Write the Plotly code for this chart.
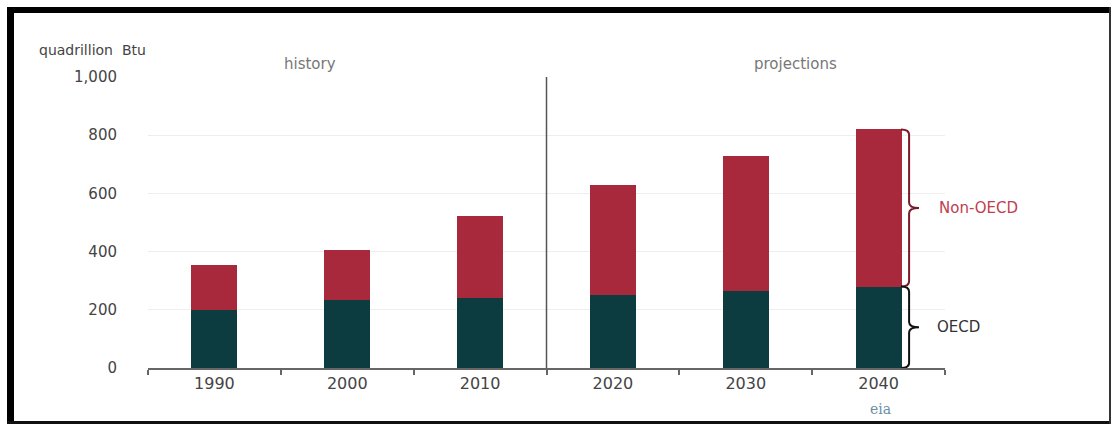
import plotly.graph_objects as go

years = ["1990", "2000", "2010", "2020", "2030", "2040"]
oecd = [200, 235, 240, 250, 265, 280]
non_oecd = [154, 171, 284, 380, 464, 540]
y_ticks = [0, 200, 400, 600, 800, 1000]

W, H = 1114, 426
L, R, T, B = 148, 169, 77, 58
PW, PH = W - L - R, H - T - B

def px(x):
    return (x - L) / PW

def py(y):
    return (H - B - y) / PH

OECD_C = "#0d3c40"
NON_C = "#a8293c"
FONT = "DejaVu Sans"

fig = go.Figure()
fig.add_bar(x=years, y=oecd, name="OECD", marker_color=OECD_C, marker_line_width=0)
fig.add_bar(x=years, y=non_oecd, name="Non-OECD", marker_color=NON_C, marker_line_width=0)

shapes = []
# separator between history and projections
shapes.append(dict(type="line", xref="x", yref="y", x0=2.5, x1=2.5, y0=0, y1=1000,
                   line=dict(color="#555555", width=1.5)))

def brace(y_lo, y_hi, x0, w, color):
    xm = x0 + w * 0.45
    xt = x0 + w
    ym = (y_lo + y_hi) / 2
    r = min(18, (y_hi - y_lo) / 6)
    p = (f"M {x0},{y_hi} Q {xm},{y_hi} {xm},{y_hi - r} L {xm},{ym + r} "
         f"Q {xm},{ym} {xt},{ym} Q {xm},{ym} {xm},{ym - r} L {xm},{y_lo + r} "
         f"Q {xm},{y_lo} {x0},{y_lo}")
    return dict(type="path", xref="paper", yref="y", path=p, line=dict(color=color, width=2))

last_o = oecd[-1]
last_t = oecd[-1] + non_oecd[-1]
bx0 = px(901)
bw = px(919) - px(901)
shapes.append(brace(last_o, last_t, bx0, bw, "#7a1a28"))
shapes.append(brace(0, last_o, bx0, bw, "#111111"))

# frame
def rect(x0, y0, x1, y1, color):
    return dict(type="rect", xref="paper", yref="paper", x0=px(x0), x1=px(x1),
                y0=py(y1), y1=py(y0), fillcolor=color, line=dict(width=0), layer="above")

shapes.append(rect(7, 7, 1111, 13, "#000000"))
shapes.append(rect(7, 7, 14, 424, "#000000"))
shapes.append(rect(7, 421, 1111, 424, "#111111"))
shapes.append(rect(1109, 7, 1111, 424, "#333333"))

annotations = [
    dict(text="quadrillion  Btu", xref="paper", yref="paper", x=px(37), y=py(50),
         xanchor="left", yanchor="middle", showarrow=False, font=dict(family=FONT, size=14, color="#444444")),
    dict(text="history", xref="paper", yref="paper", x=px(310), y=py(64),
         xanchor="center", yanchor="middle", showarrow=False, font=dict(family=FONT, size=15, color="#777777")),
    dict(text="projections", xref="paper", yref="paper", x=px(795), y=py(64),
         xanchor="center", yanchor="middle", showarrow=False, font=dict(family=FONT, size=15, color="#777777")),
    dict(text="Non-OECD", xref="paper", yref="y", x=px(937), y=last_o + non_oecd[-1] / 2,
         xanchor="left", yanchor="middle", showarrow=False, font=dict(family=FONT, size=15, color="#c0404f")),
    dict(text="OECD", xref="paper", yref="y", x=px(935), y=last_o / 2,
         xanchor="left", yanchor="middle", showarrow=False, font=dict(family=FONT, size=15, color="#333333")),
    dict(text="eia", xref="paper", yref="paper", x=px(880), y=py(409),
         xanchor="center", yanchor="middle", showarrow=False,
         font=dict(family="DejaVu Serif", size=14, color="#6d8fa6")),
]

fig.update_layout(
    width=W, height=H,
    margin=dict(l=L, r=R, t=T, b=B, pad=0),
    barmode="stack",
    bargap=0.654,
    showlegend=False,
    plot_bgcolor="white",
    paper_bgcolor="white",
    shapes=shapes,
    annotations=annotations,
    font=dict(family=FONT, color="#444444"),
)
fig.update_xaxes(
    type="category", range=[-0.5, 5.5],
    showline=True, linecolor="#666666", linewidth=1.5,
    ticks="outside", tickson="boundaries", ticklen=5, tickcolor="#666666", tickwidth=1.5,
    showgrid=False, tickfont=dict(family=FONT, size=16, color="#444444"),
)
fig.update_yaxes(
    range=[0, 1000], tickvals=y_ticks, tickformat=",",
    showgrid=True, gridcolor="#eeeeee", gridwidth=1, zeroline=False,
    showline=False, ticks="", ticklabelstandoff=30,
    tickfont=dict(family=FONT, size=15, color="#444444"),
)

fig.write_html("out.html")
